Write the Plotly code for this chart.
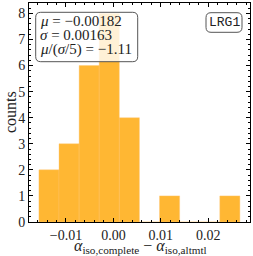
import plotly.graph_objects as go

# Data
bin_centers = [-0.01359, -0.00935, -0.00511, -0.00088, 0.00336,
               0.00760, 0.01184, 0.01607, 0.02031, 0.02455]
counts = [2, 3, 6, 8, 4, 0, 1, 0, 0, 1]
bin_width = 0.004238
x_tick_vals = [-0.01, 0.0, 0.01, 0.02]
y_tick_vals = [0, 1, 2, 3, 4, 5, 6, 7, 8]
stats_lines = ["<i>μ</i> = −0.00182", "<i>σ</i> = 0.00163",
               "<i>μ</i>/(<i>σ</i>/5) = −1.11"]
tracer_label = "LRG1"
x_title = "<i>α</i><sub>iso,complete</sub> − <i>α</i><sub>iso,altmtl</sub>"
y_title = "counts"

W, H = 253, 256
ML, MR, MT, MB = 29, 3, 3, 34
PW, PH = W - ML - MR, H - MT - MB


def px(x):
    return (x - ML) / PW


def py(y):
    return (H - MB - y) / PH


def rounded_rect(x0, y0, x1, y1, r):
    rx, ry = r / PW, r / PH
    X0, X1 = px(x0), px(x1)
    Y0, Y1 = py(y1), py(y0)
    return (f"M {X0+rx},{Y0} L {X1-rx},{Y0} Q {X1},{Y0} {X1},{Y0+ry} "
            f"L {X1},{Y1-ry} Q {X1},{Y1} {X1-rx},{Y1} "
            f"L {X0+rx},{Y1} Q {X0},{Y1} {X0},{Y1-ry} "
            f"L {X0},{Y0+ry} Q {X0},{Y0} {X0+rx},{Y0} Z")


serif = "Liberation Serif"
txt = "#222"

fig = go.Figure()
fig.add_trace(go.Bar(
    x=bin_centers, y=counts, width=bin_width,
    marker=dict(color="rgba(255,165,0,0.8)",
                line=dict(width=0.4, color="rgba(255,196,110,1)")),
    hoverinfo="skip", showlegend=False,
))

axis_common = dict(
    showline=True, linecolor="black", linewidth=1, mirror="allticks",
    ticks="inside", ticklen=4, tickwidth=1, tickcolor="black",
    showgrid=False, zeroline=False, automargin=False,
    tickfont=dict(family=serif, size=14, color=txt),
)

fig.update_xaxes(
    range=[-0.0178, 0.0288], tickvals=x_tick_vals, tickformat=".2f",
    minor=dict(dtick=0.002, ticks="inside", ticklen=2, tickcolor="black", tick0=0),
    **axis_common,
)
fig.update_yaxes(
    range=[0, 8.4], tickvals=y_tick_vals,
    minor=dict(dtick=0.2, ticks="inside", ticklen=2, tickcolor="black", tick0=0),
    **axis_common,
)

shapes = [
    dict(type="path", xref="paper", yref="paper", layer="above",
         path=rounded_rect(35.7, 12.3, 137.7, 61.7, 5),
         fillcolor="rgba(255,255,255,0.8)", line=dict(color="#555", width=1)),
    dict(type="path", xref="paper", yref="paper", layer="above",
         path=rounded_rect(206, 12.7, 242, 32.3, 5),
         fillcolor="rgba(255,255,255,0.8)", line=dict(color="#555", width=1)),
]

annotations = []
for line, yc in zip(stats_lines, [20.5, 35, 49.5]):
    annotations.append(dict(
        text=line, xref="paper", yref="paper", x=px(38), y=py(yc),
        xanchor="left", yanchor="middle", showarrow=False,
        font=dict(family=serif, size=15, color=txt),
    ))
annotations.append(dict(
    text=tracer_label, xref="paper", yref="paper", x=px(224), y=py(22.5),
    xanchor="center", yanchor="middle", showarrow=False,
    font=dict(family="Liberation Mono", size=13, color=txt),
))
annotations.append(dict(
    text=x_title, xref="paper", yref="paper", x=px(140), y=py(246.5),
    xanchor="center", yanchor="middle", showarrow=False,
    font=dict(family=serif, size=16, color=txt),
))
annotations.append(dict(
    text=y_title, xref="paper", yref="paper", x=px(10), y=py(112),
    xanchor="center", yanchor="middle", showarrow=False, textangle=-90,
    font=dict(family=serif, size=16, color=txt),
))

fig.update_layout(
    width=W, height=H, margin=dict(l=ML, r=MR, t=MT, b=MB),
    paper_bgcolor="white", plot_bgcolor="white", bargap=0,
    shapes=shapes, annotations=annotations,
)

fig.write_html(
    "out.html",
    config={"displayModeBar": False, "staticPlot": True},
    post_script="document.body.style.margin='0';document.body.style.overflow='hidden';",
)
